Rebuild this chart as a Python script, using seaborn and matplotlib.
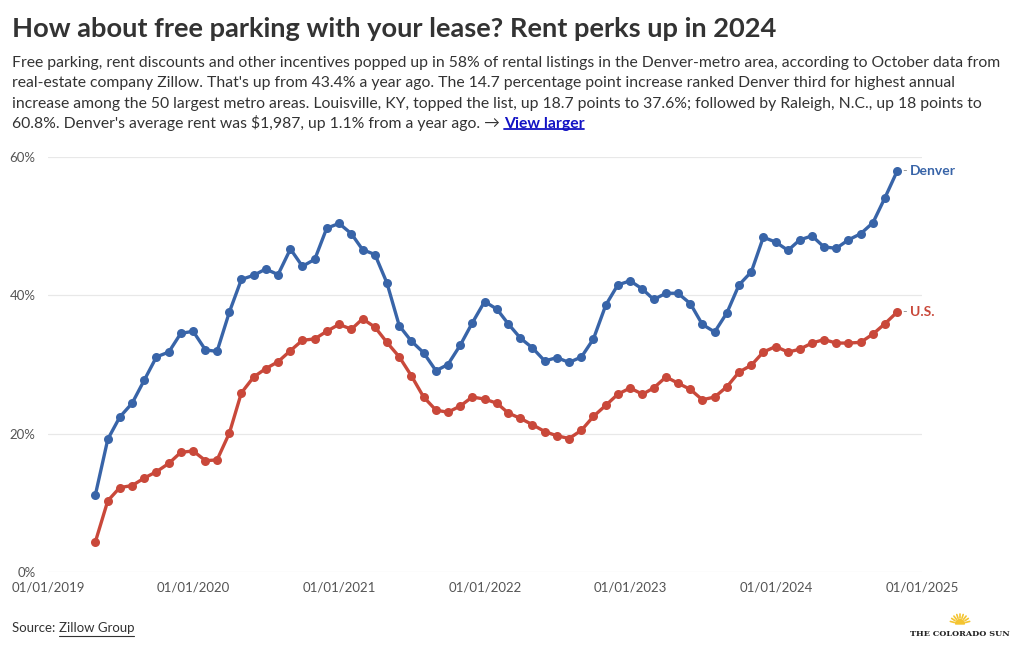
import numpy as np
import pandas as pd
import matplotlib
matplotlib.use("Agg")
import matplotlib.pyplot as plt
import matplotlib.dates as mdates
from matplotlib.lines import Line2D
from matplotlib.patches import Wedge
from matplotlib.transforms import IdentityTransform
from matplotlib.ticker import FuncFormatter
import seaborn as sns


# share of rental listings with concessions (%), monthly, Apr 2019 - Oct 2024
months = pd.date_range("2019-04-30", "2024-10-31", freq="ME")

denver = [11.2, 19.2, 22.4, 24.4, 27.8, 31.1, 31.8, 34.5, 34.8,
          32.1, 31.9, 37.6, 42.3, 42.9, 43.8, 43.0, 46.7, 44.2, 45.2, 49.7, 50.4,
          48.9, 46.6, 45.9, 41.8, 35.6, 33.4, 31.7, 29.1, 30.0, 32.8, 36.0, 39.1,
          38.0, 35.9, 33.8, 32.4, 30.5, 31.0, 30.3, 31.1, 33.7, 38.6, 41.5, 42.1,
          40.9, 39.4, 40.3, 40.3, 38.8, 35.8, 34.7, 37.5, 41.5, 43.4, 48.4, 47.7,
          46.5, 48.0, 48.6, 47.0, 46.8, 48.0, 48.9, 50.5, 54.1, 58.0]

us = [4.4, 10.3, 12.2, 12.5, 13.6, 14.5, 15.7, 17.3, 17.5,
      16.1, 16.2, 20.1, 25.9, 28.2, 29.4, 30.4, 32.0, 33.5, 33.7, 34.8, 35.8,
      35.1, 36.6, 35.4, 33.2, 31.1, 28.4, 25.3, 23.4, 23.1, 24.0, 25.3, 25.0,
      24.4, 23.0, 22.2, 21.3, 20.3, 19.7, 19.3, 20.5, 22.5, 24.1, 25.7, 26.6,
      25.7, 26.6, 28.2, 27.3, 26.4, 24.9, 25.3, 26.8, 28.9, 29.9, 31.8, 32.6,
      31.8, 32.2, 33.1, 33.6, 33.1, 33.1, 33.2, 34.4, 35.9, 37.6]

series_names = ["Denver", "U.S."]
colors = {"Denver": "#3864a8", "U.S.": "#c9483a"}

y_ticks = [0, 20, 40, 60]
x_ticks = pd.to_datetime(["2019-01-01", "2020-01-01", "2021-01-01", "2022-01-01",
                          "2023-01-01", "2024-01-01", "2025-01-01"])

title = "How about free parking with your lease? Rent perks up in 2024"
intro = [
    "Free parking, rent discounts and other incentives popped up in 58% of rental listings in the Denver-metro area, according to October data from",
    "real-estate company Zillow. That's up from 43.4% a year ago. The 14.7 percentage point increase ranked Denver third for highest annual",
    "increase among the 50 largest metro areas. Louisville, KY, topped the list, up 18.7 points to 37.6%; followed by Raleigh, N.C., up 18 points to",
    "60.8%. Denver's average rent was $1,987, up 1.1% from a year ago. \u2192 ",
]

df = pd.DataFrame({
    "date": np.tile(months, 2),
    "value": denver + us,
    "series": np.repeat(series_names, len(months)),
})

sns.set_theme(style="white")
plt.rcParams["font.family"] = ["Lato", "DejaVu Sans"]

W, H = 1020, 650
fig = plt.figure(figsize=(W / 100, H / 100), dpi=100)
fig.patch.set_facecolor("white")


def px(x, y):
    # pixel position (from top-left) -> figure fraction
    return x / W, 1 - y / H


def fit(txt, width_px):
    fig.canvas.draw()
    w = txt.get_window_extent(fig.canvas.get_renderer()).width
    txt.set_fontsize(txt.get_fontsize() * width_px / w)


def underline(txt, color, lw=1.0, drop=2.5):
    fig.canvas.draw()
    bb = txt.get_window_extent(fig.canvas.get_renderer())
    y = (bb.y0 + drop) / H
    fig.add_artist(Line2D([bb.x0 / W, bb.x1 / W], [y, y], color=color, lw=lw,
                          transform=fig.transFigure))


# title and intro
t = fig.text(*px(12, 37), title, fontsize=19, fontweight="bold", color="#333333",
             va="baseline", ha="left")
fit(t, 766)

lines = []
for i, s in enumerate(intro):
    lines.append(fig.text(*px(12, 67 + 20.4 * i), s, fontsize=11, color="#333333",
                          va="baseline", ha="left", parse_math=False))
fit(lines[0], 987)
for ln in lines[1:]:
    ln.set_fontsize(lines[0].get_fontsize())

fig.canvas.draw()
bb = lines[-1].get_window_extent(fig.canvas.get_renderer())
link = fig.text(bb.x1 / W, 1 - (67 + 20.4 * 3) / H, "View larger",
                fontsize=lines[0].get_fontsize(), fontweight="bold", color="#1212c4",
                va="baseline", ha="left")
underline(link, "#1212c4", lw=1.3)

# chart
ax = fig.add_axes([48 / W, 78 / H, (922 - 48) / W, (572 - 157) / H])
sns.lineplot(data=df, x="date", y="value", hue="series", palette=colors,
             marker="o", markersize=6.5, markeredgewidth=0, linewidth=2.4,
             legend=False, ax=ax)
for l in ax.lines:
    l.set_clip_on(False)

ax.set_xlim(x_ticks[0], x_ticks[-1])
ax.set_ylim(0, 60)
ax.set_yticks(y_ticks)
ax.yaxis.set_major_formatter(FuncFormatter(lambda v, p: f"{v:.0f}%"))
ax.set_xticks(x_ticks)
ax.xaxis.set_major_formatter(mdates.DateFormatter("%m/%d/%Y"))
ax.set_xlabel("")
ax.set_ylabel("")
ax.grid(axis="y", color="#e8e8e8", linewidth=0.9)
ax.set_axisbelow(True)
for sp in ax.spines.values():
    sp.set_visible(False)
ax.tick_params(axis="y", length=0, pad=9, labelsize=9.5, labelcolor="#555555")
ax.tick_params(axis="x", length=0, pad=7, labelsize=9.5, labelcolor="#555555")

# direct labels at the line ends
for name, vals in zip(series_names, [denver, us]):
    ax.annotate("-", xy=(months[-1], vals[-1]), xytext=(5, 0),
                textcoords="offset pixels", va="center", ha="left",
                fontsize=9, color="#999999", annotation_clip=False)
    ax.annotate(name, xy=(months[-1], vals[-1]), xytext=(13, 0),
                textcoords="offset pixels", va="center", ha="left",
                fontsize=10, fontweight="bold", color=colors[name],
                annotation_clip=False)

# footer
src = fig.text(*px(12, 632), "Source: ", fontsize=9.5, color="#333333",
               va="baseline", ha="left")
fig.canvas.draw()
bb = src.get_window_extent(fig.canvas.get_renderer())
zg = fig.text(bb.x1 / W, 1 - 632 / H, "Zillow Group", fontsize=9.5, color="#333333",
              va="baseline", ha="left")
underline(zg, "#333333", lw=0.8, drop=-1.5)

logo = fig.text(*px(1010, 636), "THE COLORADO SUN", fontsize=7, fontweight="bold",
                family="DejaVu Serif", color="#222222", va="baseline", ha="right")
fit(logo, 100)

# little rising sun above the wordmark (display pixels, origin bottom-left)
sun_x, sun_y = 960, H - 624
fig.add_artist(Wedge((sun_x, sun_y), 4.5, 0, 180, color="#f4c430",
                     transform=IdentityTransform()))
for ang in np.linspace(15, 165, 9):
    a = np.deg2rad(ang)
    fig.add_artist(Line2D([sun_x + 6 * np.cos(a), sun_x + 10 * np.cos(a)],
                          [sun_y + 6 * np.sin(a), sun_y + 10 * np.sin(a)],
                          color="#f4c430", lw=1.2, transform=IdentityTransform()))

fig.savefig("out.png", dpi=100, facecolor="white")
